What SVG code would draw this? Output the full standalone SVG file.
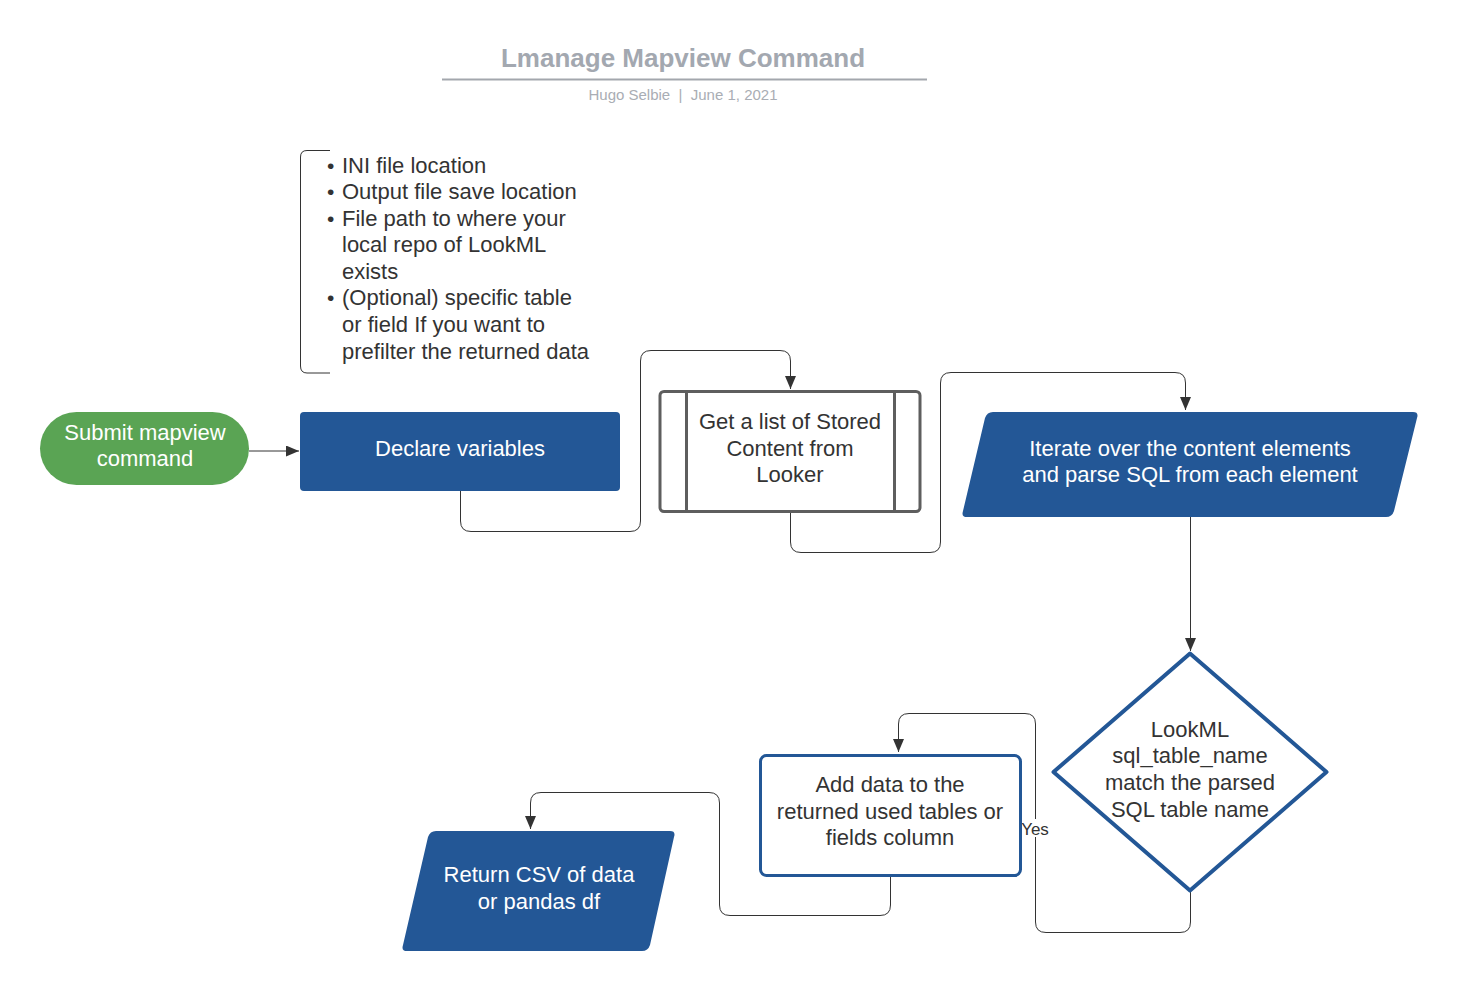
<svg xmlns="http://www.w3.org/2000/svg" width="1460" height="992" viewBox="0 0 1460 992">
<style>
.t{font-family:"Liberation Sans",Arial,sans-serif;font-size:22px;text-anchor:middle}
.w{fill:#ffffff}
.d{fill:#333333}
.c{fill:none;stroke:#333333;stroke-width:1}
.blue{fill:#235796}
.b{font-size:21px}
</style>
<defs>
<marker id="ah" markerWidth="14" markerHeight="12" refX="13" refY="5.500" orient="auto" markerUnits="userSpaceOnUse">
<path d="M0,0 L13,5.500 L0,11 Z" fill="#333333"/>
</marker>
</defs>
<rect width="1460" height="992" fill="#ffffff"/>
<g id="title">
<text x="683" y="67" font-family="Liberation Sans,Arial,sans-serif" font-size="26" font-weight="bold" fill="#a3a8b0" text-anchor="middle">Lmanage Mapview Command</text>
<line x1="442" y1="79.500" x2="927" y2="79.500" stroke="#a3a7ad" stroke-width="2"/>
<text x="683" y="100" font-family="Liberation Sans,Arial,sans-serif" font-size="15" fill="#a9adb4" text-anchor="middle" xml:space="preserve">Hugo Selbie  |  June 1, 2021</text>
</g>
<g id="note">
<path d="M330,150.500 L307,150.500 Q300.500,150.500 300.500,157 L300.500,366 Q300.500,373 307,373 L330,373" fill="none" stroke="#333333" stroke-width="1"/>
<g font-family="Liberation Sans,Arial,sans-serif" font-size="22" fill="#333333">
<text class="b" x="327" y="173">•</text><text x="342" y="173">INI file location</text>
<text class="b" x="327" y="199">•</text><text x="342" y="199">Output file save location</text>
<text class="b" x="327" y="226">•</text><text x="342" y="226">File path to where your</text>
<text x="342" y="252">local repo of LookML</text>
<text x="342" y="279">exists</text>
<text class="b" x="327" y="305">•</text><text x="342" y="305">(Optional) specific table</text>
<text x="342" y="332">or field If you want to</text>
<text x="342" y="359">prefilter the returned data</text>
</g>
</g>
<g id="connectors">
<line class="c" x1="249" y1="451" x2="299" y2="451" marker-end="url(#ah)"/>
<path class="c" d="M460.500,491 L460.500,521 Q460.500,531.500 471,531.500 L630,531.500 Q640.500,531.500 640.500,521 L640.500,361 Q640.500,350.500 651,350.500 L780,350.500 Q790.500,350.500 790.500,361 L790.500,389" marker-end="url(#ah)"/>
<path class="c" d="M790.500,512 L790.500,542 Q790.500,552.500 801,552.500 L930,552.500 Q940.500,552.500 940.500,542 L940.500,383 Q940.500,372.500 951,372.500 L1175,372.500 Q1185.500,372.500 1185.500,383 L1185.500,410" marker-end="url(#ah)"/>
<line class="c" x1="1190.500" y1="517" x2="1190.500" y2="651" marker-end="url(#ah)"/>
<path class="c" d="M1190.500,891 L1190.500,922 Q1190.500,932.500 1180,932.500 L1046,932.500 Q1035.500,932.500 1035.500,922 L1035.500,724 Q1035.500,713.500 1025,713.500 L909,713.500 Q898.500,713.500 898.500,724 L898.500,752" marker-end="url(#ah)"/>
<path class="c" d="M890.500,875 L890.500,905 Q890.500,915.500 880,915.500 L730,915.500 Q719.500,915.500 719.500,905 L719.500,803 Q719.500,792.500 709,792.500 L541,792.500 Q530.500,792.500 530.500,803 L530.500,829" marker-end="url(#ah)"/>
<rect x="1021" y="819" width="30" height="18" fill="#ffffff"/>
<text x="1035" y="835" font-family="Liberation Sans,Arial,sans-serif" font-size="17" fill="#333333" text-anchor="middle">Yes</text>
</g>
<g id="submit">
<rect x="40" y="412" width="209" height="73" rx="36.500" fill="#5aa454"/>
<text class="t w" x="145" y="440">Submit mapview</text>
<text class="t w" x="145" y="466">command</text>
</g>
<g id="declare">
<rect x="300" y="412" width="320" height="79" rx="4" class="blue"/>
<text class="t w" x="460" y="456">Declare variables</text>
</g>
<g id="stored">
<rect x="660" y="391.500" width="260" height="120" rx="4" fill="#ffffff" stroke="#5e5e5e" stroke-width="3"/>
<line x1="686.500" y1="391.500" x2="686.500" y2="511.500" stroke="#5e5e5e" stroke-width="3"/>
<line x1="894.500" y1="391.500" x2="894.500" y2="511.500" stroke="#5e5e5e" stroke-width="3"/>
<text class="t d" x="790" y="429">Get a list of Stored</text>
<text class="t d" x="790" y="456">Content from</text>
<text class="t d" x="790" y="482">Looker</text>
</g>
<g id="iterate">
<path d="M989,412 L1413,412 Q1419,412 1417,418 L1394,511 Q1392,517 1386,517 L967,517 Q961,517 963,511 L985,418 Q987,412 993,412 Z" class="blue"/>
<text class="t w" x="1190" y="456">Iterate over the content elements</text>
<text class="t w" x="1190" y="482">and parse SQL from each element</text>
</g>
<g id="decision">
<path d="M1190,653.500 L1326.500,772 L1190,890.500 L1053.500,772 Z" fill="#ffffff" stroke="#235796" stroke-width="4" stroke-linejoin="round"/>
<text class="t d" x="1190" y="737">LookML</text>
<text class="t d" x="1190" y="763">sql_table_name</text>
<text class="t d" x="1190" y="790">match the parsed</text>
<text class="t d" x="1190" y="817">SQL table name</text>
</g>
<g id="adddata">
<rect x="760.500" y="755.500" width="260" height="120" rx="6" fill="#ffffff" stroke="#235796" stroke-width="3"/>
<text class="t d" x="890" y="792">Add data to the</text>
<text class="t d" x="890" y="819">returned used tables or</text>
<text class="t d" x="890" y="845">fields column</text>
</g>
<g id="return">
<path d="M436,831 L670,831 Q676,831 674,837 L650,945 Q648,951 642,951 L407,951 Q401,951 403,945 L428,837 Q430,831 436,831 Z" class="blue"/>
<text class="t w" x="539" y="882">Return CSV of data</text>
<text class="t w" x="539" y="909">or pandas df</text>
</g>
</svg>
